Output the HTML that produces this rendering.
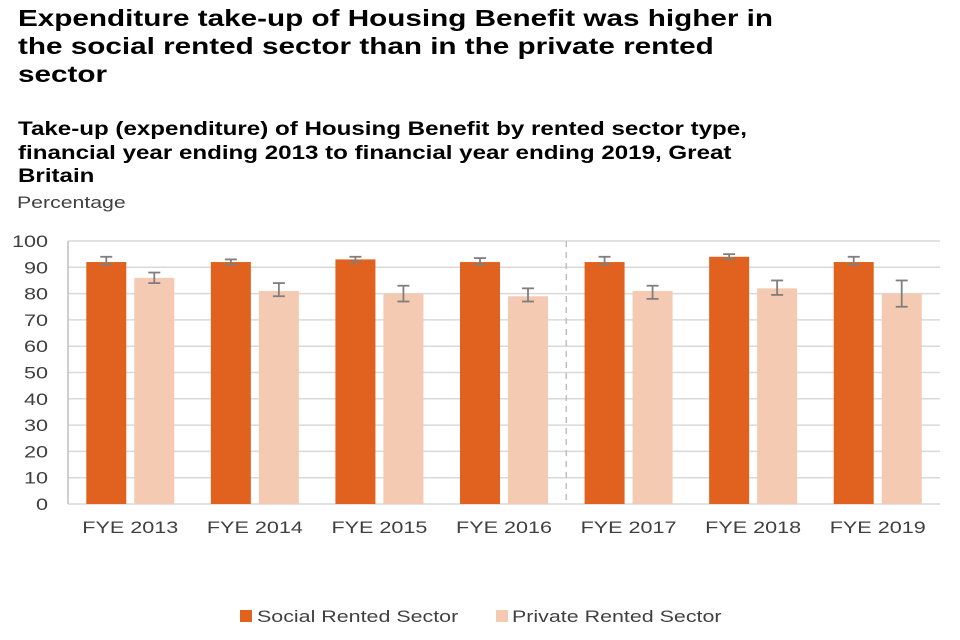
<!DOCTYPE html>
<html><head><meta charset="utf-8"><style>
body{margin:0;width:960px;height:640px;background:#fff;font-family:"Liberation Sans",Arial,sans-serif;overflow:hidden;position:relative}
.t{position:absolute;left:18px;font-weight:bold;color:#000;transform-origin:0 0;transform:scaleX(1.29);white-space:nowrap}
</style></head><body>
<div class="t" style="top:4px;font-size:23px;line-height:28px">Expenditure take-up of Housing Benefit was higher in<br>the social rented sector than in the private rented<br>sector</div>
<div class="t" style="top:118px;font-size:19px;line-height:23.5px;transform:scaleX(1.27)">Take-up (expenditure) of Housing Benefit by rented sector type,<br>financial year ending 2013 to financial year ending 2019, Great<br>Britain</div>
<div style="position:absolute;left:17px;top:193px;font-size:17px;color:#404040;transform-origin:0 0;transform:scaleX(1.25)">Percentage</div>
<svg id="c" width="960" height="640" style="position:absolute;left:0;top:0"></svg>
<script>
const categories=["FYE 2013","FYE 2014","FYE 2015","FYE 2016","FYE 2017","FYE 2018","FYE 2019"];
const social=[92,92,93,92,92,94,92];
const socialLow=[91,91,92,91,91,93,91];
const socialHigh=[94,93,94,93.5,94,95,94];
const priv=[86,81,80,79,81,82,80];
const privLow=[84,79,77,77,78,79.5,75];
const privHigh=[88,84,83,82,83,85,85];
const yTicks=[0,10,20,30,40,50,60,70,80,90,100];
const L=68,R=940,T=241,B=504;
const y=v=>B-(v/100)*(B-T);
const cw=(R-L)/categories.length;
const cx=i=>L+cw*(i+0.5);
const svg=document.getElementById('c');
const NS='http://www.w3.org/2000/svg';
function mk(tag,a){const e=document.createElementNS(NS,tag);for(const k in a)e.setAttribute(k,a[k]);svg.appendChild(e);return e;}
yTicks.forEach(v=>{
 const g=mk('line',{x1:L,x2:R,y1:y(v),y2:y(v),stroke:'#d9d9d9','stroke-width':1.5});
 
 
 const t=mk('text',{x:0,y:0,transform:'translate(48,'+(y(v)+6)+') scale(1.27,1)','text-anchor':'end','font-size':17,fill:'#404040','font-family':'Liberation Sans, sans-serif'});
 t.textContent=v;
 
 
});
const ax=mk('line',{x1:L,x2:L,y1:T,y2:B,stroke:'#bfbfbf','stroke-width':1.5});


const dl=mk('line',{x1:L+cw*4,x2:L+cw*4,y1:T,y2:B,stroke:'#bfbfbf','stroke-width':1.5,'stroke-dasharray':'6,5'});


function err(x,lo,hi){
 const a=mk('line',{x1:x,x2:x,y1:y(hi),y2:y(lo),stroke:'#7f7f7f','stroke-width':1.8});
 
 
 [lo,hi].forEach(v=>{const c=mk('line',{x1:x-6,x2:x+6,y1:y(v),y2:y(v),stroke:'#7f7f7f','stroke-width':1.8});
 
 });
}
categories.forEach((c,i)=>{
 const s=mk('rect',{x:cx(i)-44,y:y(social[i]),width:40,height:B-y(social[i]),fill:'#e0621e'});
 
 
 const p=mk('rect',{x:cx(i)+4,y:y(priv[i]),width:40,height:B-y(priv[i]),fill:'#f5cab2'});
 
 
 err(cx(i)-24,socialLow[i],socialHigh[i]);
 err(cx(i)+24,privLow[i],privHigh[i]);
 const t=mk('text',{x:0,y:0,transform:'translate('+cx(i)+',533) scale(1.27,1)','text-anchor':'middle','font-size':17,fill:'#404040','font-family':'Liberation Sans, sans-serif'});
 t.textContent=c;
 
 
});
</script>
<div style="position:absolute;top:607px;left:240px;font-size:17px;color:#404040;white-space:nowrap"><span style="display:inline-block;width:12px;height:12px;background:#e0621e;margin-right:5px"></span><span style="display:inline-block;transform-origin:0 0;transform:scaleX(1.26)">Social Rented Sector</span></div>
<div style="position:absolute;top:607px;left:496px;font-size:17px;color:#404040;white-space:nowrap"><span style="display:inline-block;width:12px;height:12px;background:#f5cab2;margin-right:4px"></span><span style="display:inline-block;transform-origin:0 0;transform:scaleX(1.26)">Private Rented Sector</span></div>
</body></html>
